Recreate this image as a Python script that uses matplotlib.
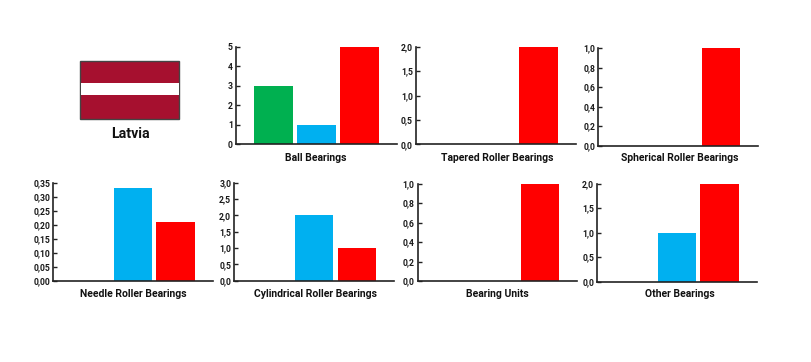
import matplotlib
matplotlib.use('Agg')
import matplotlib.pyplot as plt
from matplotlib.patches import Rectangle

W, H = 812, 362
plt.rcParams['font.family'] = ['Roboto', 'DejaVu Sans']

series_colors = ['#00B050', '#00B0F0', '#FF0000']

titles = ['Ball Bearings', 'Tapered Roller Bearings', 'Spherical Roller Bearings',
          'Needle Roller Bearings', 'Cylindrical Roller Bearings', 'Bearing Units', 'Other Bearings']
ball = [3, 1, 5]
tapered = [0, 0, 2]
spherical = [0, 0, 1]
needle = [0, 0.33, 0.21]
cylindrical = [0, 2, 1]
units = [0, 0, 1]
other = [0, 1, 2]
values = [ball, tapered, spherical, needle, cylindrical, units, other]

ticks = [[0, 1, 2, 3, 4, 5],
         [0, 0.5, 1, 1.5, 2],
         [0, 0.2, 0.4, 0.6, 0.8, 1],
         [0, 0.05, 0.1, 0.15, 0.2, 0.25, 0.3, 0.35],
         [0, 0.5, 1, 1.5, 2, 2.5, 3],
         [0, 0.2, 0.4, 0.6, 0.8, 1],
         [0, 0.5, 1, 1.5, 2]]
decimals = [0, 1, 1, 2, 1, 1, 1]

# left, right, top, bottom in pixels
boxes = [(236.0, 396.7, 46.7, 144.3),
         (416.0, 575.7, 46.7, 144.3),
         (598.3, 758.3, 48.0, 145.7),
         (53.3, 212.7, 182.7, 280.7),
         (234.3, 394.0, 182.7, 280.7),
         (417.7, 577.3, 183.7, 281.0),
         (597.3, 756.7, 183.7, 281.7)]
# panel captions, centre in pixels
caption_xy = [(315.3, 157.7), (497.5, 157.7), (679.7, 157.7),
              (133.0, 294.3), (315.3, 294.3), (497.7, 294.3), (679.8, 294.3)]

fig = plt.figure(figsize=(W / 100, H / 100), dpi=100)


def px_axes(l, r, t, b):
    return fig.add_axes([l / W, 1 - b / H, (r - l) / W, (b - t) / H])


for i in range(7):
    l, r, t, b = boxes[i]
    ax = px_axes(l, r, t, b)
    ax.bar(range(3), values[i], width=0.9, color=series_colors, zorder=2)
    ax.set_xlim(-0.865, 2.87)
    ax.set_ylim(0, ticks[i][-1])
    ax.set_xticks([])
    ax.set_yticks(ticks[i])
    ax.set_yticklabels([f'{v:.{decimals[i]}f}'.replace('.', ',') for v in ticks[i]],
                       fontsize=6.2, fontweight='bold', color='#1a1a1a')
    ax.tick_params(axis='y', direction='in', length=3, width=1, pad=2.2, color='#222222')
    for s in ['top', 'right']:
        ax.spines[s].set_visible(False)
    for s in ['left', 'bottom']:
        ax.spines[s].set_linewidth(1.2)
        ax.spines[s].set_color('#222222')
    cx, cy = caption_xy[i]
    fig.text(cx / W, 1 - cy / H, titles[i], ha='center', va='center',
             fontsize=7.5, fontweight='bold', color='#111111')

# flag
flag = fig.add_axes([0, 0, 1, 1])
flag.set_xlim(0, W)
flag.set_ylim(H, 0)
flag.axis('off')
flag.add_patch(Rectangle((80.5, 60.5), 99, 58, facecolor='#A6102F', edgecolor='#444444', linewidth=1))
flag.add_patch(Rectangle((81, 83.3), 98, 12, facecolor='white', edgecolor='none'))
flag.text(130, 134.5, 'Latvia', ha='center', va='center', fontsize=10.2, fontweight='bold', color='#111111')

fig.savefig('out.png', dpi=100)
